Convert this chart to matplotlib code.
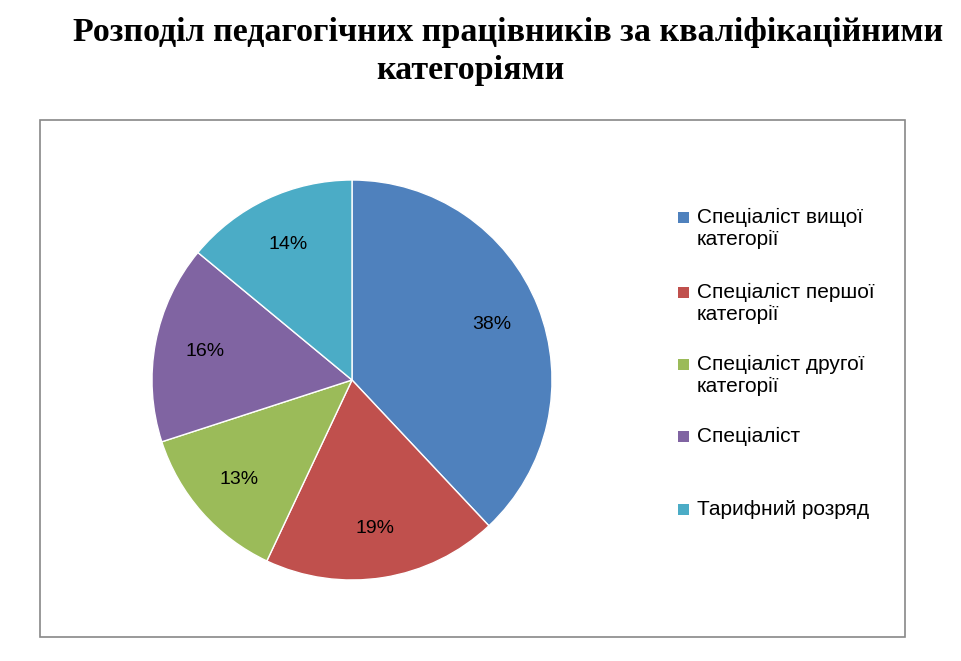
import matplotlib.pyplot as plt
from matplotlib.patches import Rectangle

# data
labels = ['Спеціаліст вищої\nкатегорії', 'Спеціаліст першої\nкатегорії',
          'Спеціаліст другої\nкатегорії', 'Спеціаліст', 'Тарифний розряд']
values = [38, 19, 13, 16, 14]
colors = ['#4F81BD', '#C0504D', '#9BBB59', '#8064A2', '#4BACC6']

W, H = 961, 661
fig = plt.figure(figsize=(W / 100, H / 100), dpi=100)

# title
fig.text(508 / W, 1 - 32 / H, 'Розподіл педагогічних працівників за кваліфікаційними',
         ha='center', va='center', fontsize=24.5, fontweight='bold', family='Liberation Serif')
fig.text(470 / W, 1 - 70 / H, 'категоріями',
         ha='center', va='center', fontsize=24.5, fontweight='bold', family='Liberation Serif')

# chart frame
fig.patches.append(Rectangle((40 / W, 1 - 637 / H), 865 / W, 517 / H,
                             transform=fig.transFigure, fill=False,
                             edgecolor='#888888', linewidth=1.2))

# pie
ax = fig.add_axes([152 / W, (H - 580) / H, 400 / W, 400 / H])
wedges, texts, autotexts = ax.pie(values, colors=colors, startangle=90, counterclock=False,
                                  autopct='%1.0f%%', pctdistance=0.75,
                                  wedgeprops={'edgecolor': 'white', 'linewidth': 1},
                                  textprops={'fontsize': 14, 'family': 'Liberation Sans'})
ax.set_xlim(-1, 1)
ax.set_ylim(-1, 1)
ax.set_aspect('equal')

# legend
ys = [218, 293, 365, 437, 510]
for lab, col, y in zip(labels, colors, ys):
    fig.patches.append(Rectangle((678 / W, 1 - (y + 5) / H), 11 / W, 11 / H,
                                 transform=fig.transFigure, facecolor=col, edgecolor='none'))
    fig.text(697 / W, 1 - (y - 10) / H, lab, ha='left', va='top', fontsize=15,
             family='Liberation Sans', linespacing=1.2)

fig.savefig('out.png', dpi=100)
